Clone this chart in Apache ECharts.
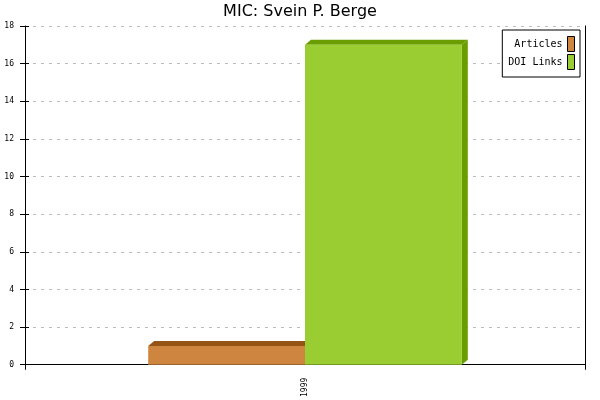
<!DOCTYPE html>
<html>
<head>
<meta charset="utf-8">
<script src="https://cdn.jsdelivr.net/npm/echarts@6/dist/echarts.min.js"></script>
<style>
html, body { margin: 0; padding: 0; background: #fff; }
#chart { width: 600px; height: 400px; }
</style>
</head>
<body>
<div id="chart"></div>
<script>
var years = ['1999'];
var articles = [1];
var doiLinks = [17];
var yTicks = { min: 0, max: 18, interval: 2 };

var myChart = echarts.init(document.getElementById('chart'));

var monoFont = '"DejaVu Sans Mono", monospace';

// front / shaded colours per series
var faces = [
	{ front: '#CD853F', shade: '#965414' },
	{ front: '#9ACD32', shade: '#6A9E00' }
];
var nSeries = 2;
var barRatio = 0.28;
var depthX = 6, depthY = 5;

function make_render(idx) {
	return function(params, api) {
		var xi = api.value(0), val = api.value(1);
		var top = api.coord([xi, val]);
		var base = api.coord([xi, 0]);
		var band = api.size([1, 0])[0];
		var w = band * barRatio;
		var x0 = top[0] - w * nSeries / 2 + idx * w;
		var x1 = x0 + w;
		var yT = top[1], yB = base[1];
		var c = faces[idx];
		return {
			type: 'group',
			children: [
				{
					type: 'polygon',
					shape: { points: [[x1, yT], [x1 + depthX, yT - depthY], [x1 + depthX, yB - depthY], [x1, yB]] },
					style: { fill: c.shade }
				},
				{
					type: 'polygon',
					shape: { points: [[x0, yT], [x0 + depthX, yT - depthY], [x1 + depthX, yT - depthY], [x1, yT]] },
					style: { fill: c.shade }
				},
				{
					type: 'rect',
					shape: { x: x0, y: yT, width: w, height: yB - yT },
					style: { fill: c.front }
				}
			]
		};
	};
}

function to_points(arr) {
	return arr.map(function(v, i) { return [i, v]; });
}

option = {
	animation: false,
	backgroundColor: '#fff',
	title: {
		text: 'MIC: Svein P. Berge',
		left: 'center',
		top: -1,
		textStyle: {
			fontFamily: '"DejaVu Sans", sans-serif',
			fontSize: 16,
			fontWeight: 'normal',
			color: '#000'
		}
	},
	legend: {
		data: ['Articles', 'DOI Links'],
		orient: 'vertical',
		right: 20,
		top: 30,
		align: 'right',
		itemWidth: 7,
		itemHeight: 15,
		itemGap: 2,
		padding: [6, 5, 7, 6],
		borderColor: '#000',
		borderWidth: 1,
		borderRadius: 0,
		backgroundColor: '#fff',
		icon: 'rect',
		itemStyle: { borderColor: '#000', borderWidth: 1 },
		textStyle: { fontFamily: monoFont, fontSize: 10, color: '#000' }
	},
	grid: { left: 25, right: 15, top: 26, bottom: 35 },
	xAxis: {
		type: 'category',
		data: years,
		axisLine: { lineStyle: { color: '#000', width: 1 } },
		axisTick: { show: true, length: 5, lineStyle: { color: '#000' } },
		axisLabel: { rotate: 90, fontFamily: monoFont, fontSize: 8, color: '#000', margin: 13 }
	},
	yAxis: [
		{
			type: 'value',
			min: yTicks.min,
			max: yTicks.max,
			interval: yTicks.interval,
			axisLine: { show: true, lineStyle: { color: '#000', width: 1 } },
			axisTick: { show: true, length: 5, lineStyle: { color: '#000' } },
			axisLabel: { fontFamily: monoFont, fontSize: 8, color: '#000', margin: 11 },
			splitLine: { show: true, lineStyle: { color: '#bbb', type: [3, 5], width: 1 } }
		},
		{
			type: 'value',
			position: 'left',
			min: yTicks.min,
			max: yTicks.max,
			interval: yTicks.interval,
			axisLine: { show: false },
			axisTick: { show: true, inside: true, length: 4, lineStyle: { color: '#000' } },
			axisLabel: { show: false },
			splitLine: { show: false }
		},
		{
			type: 'value',
			position: 'right',
			min: yTicks.min,
			max: yTicks.max,
			interval: yTicks.interval,
			axisLine: { show: true, lineStyle: { color: '#000', width: 1 } },
			axisTick: { show: false },
			axisLabel: { show: false },
			splitLine: { show: false }
		}
	],
	series: [
		{
			name: 'Articles',
			type: 'custom',
			renderItem: make_render(0),
			encode: { x: 0, y: 1 },
			data: to_points(articles),
			itemStyle: { color: faces[0].front }
		},
		{
			name: 'DOI Links',
			type: 'custom',
			renderItem: make_render(1),
			encode: { x: 0, y: 1 },
			data: to_points(doiLinks),
			itemStyle: { color: faces[1].front }
		}
	]
};

myChart.setOption(option);
</script>
</body>
</html>
